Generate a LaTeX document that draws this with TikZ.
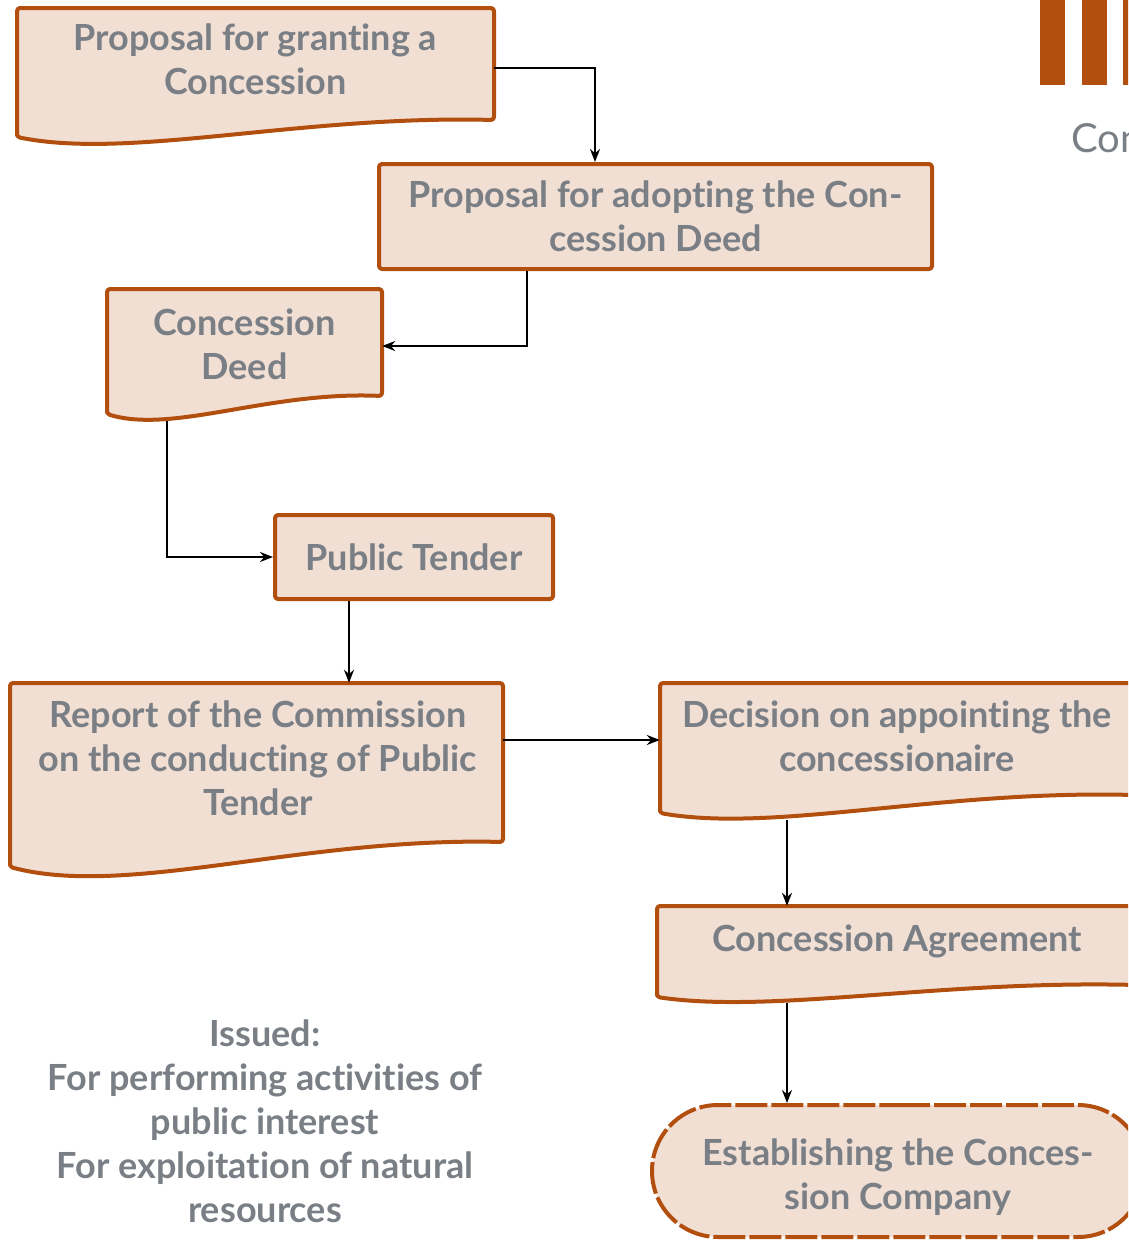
\documentclass[tikz,border=0pt]{standalone}
\usepackage{fontspec}
\setmainfont{Lato}[Ligatures=NoCommon]
\usetikzlibrary{arrows.meta,shapes.misc}
\definecolor{rust}{HTML}{B24F0E}
\definecolor{pale}{HTML}{F2DFD4}
\definecolor{ink}{HTML}{7A7F86}
\begin{document}
\begin{tikzpicture}[x=1pt,y=-1pt,
  docshape/.style={draw=rust, fill=pale, line width=4pt, rounded corners=3pt, line join=round},
  box/.style={docshape, rectangle, inner sep=0pt, text=ink, align=center,
    font=\fontsize{36}{44}\selectfont\bfseries},
  terminal/.style={draw=rust, fill=pale, line width=4pt, rounded rectangle, inner sep=0pt,
    dash pattern=on 32pt off 4pt},
  frame/.style={rectangle, draw=none, inner sep=0pt},
  label/.style={text=ink, align=center, inner sep=0pt,
    font=\fontsize{36}{44}\selectfont\bfseries},
  conn/.style={draw=black, line width=2pt, -{Stealth[length=13pt,width=10pt]}},
  bar/.style={fill=rust, draw=none}]
\clip (0,0) rectangle (1128,1240);

% corner decoration
\fill[bar] (1040,0) rectangle (1065,85);
\fill[bar] (1082,0) rectangle (1107,85);
\fill[bar] (1123,0) rectangle (1148,85);
\node[anchor=west, inner sep=0pt, text=ink, font=\fontsize{40}{48}\selectfont] (corner) at (1071,138) {Con};

% document shapes
\path[docshape] (17,137) -- (17,8) -- (494,8) -- (494,120)
  .. controls (300,115) and (130,160) .. cycle;
\path[docshape] (107,414) -- (107,289) -- (382,289) -- (382,396)
  .. controls (269,391) and (173,434) .. cycle;
\path[docshape] (10,867) -- (10,683) -- (503,683) -- (503,842)
  .. controls (301,837) and (128,898) .. cycle;
\path[docshape] (660,813) -- (660,683) -- (1134,683) -- (1134,795)
  .. controls (940,790) and (774,833) .. cycle;
\path[docshape] (657,997) -- (657,906) -- (1137,906) -- (1137,985)
  .. controls (940,980) and (772,1014) .. cycle;

% extents of the document shapes
\node[frame, minimum width=477pt, minimum height=137pt] (b1) at (255.5,76.5) {};
\node[frame, minimum width=275pt, minimum height=132pt] (b3) at (244.5,355) {};
\node[frame, minimum width=493pt, minimum height=195pt] (b5) at (256.5,780.5) {};
\node[frame, minimum width=474pt, minimum height=137pt] (b6) at (897,751.5) {};
\node[frame, minimum width=480pt, minimum height=97pt] (b7) at (897,954.5) {};

% texts of the document shapes
\node[label] (t1) at (255.5,59) {Proposal for granting a\\Concession};
\node[label] (t3) at (244.5,344) {Concession\\Deed};
\node[label] (t5) at (258,758) {Report of the Commission\\on the conducting of Public\\Tender};
\node[label] (t6) at (897,736) {Decision on appointing the\\concessionaire};
\node[label] (t7) at (897,941) {Concession Agreement};

% process boxes
\node[box, minimum width=553pt, minimum height=105pt] (b2) at (655.5,216.5)
  {Proposal for adopting the Con-\\cession Deed};
\node[box, minimum width=278pt, minimum height=84pt] (b4) at (414,557) {Public Tender};

% terminal
\node[terminal, minimum width=492pt, minimum height=132pt] (b8) at (898,1171) {};
\node[label] (t8) at (898,1177) {Establishing the Conces-\\sion Company};

% note
\node[label] (note) at (265,1121.5)
  {Issued:\\For performing activities of\\public interest\\For exploitation of natural\\resources};

% connectors
\draw[conn] ([yshift=8.5pt]b1.east) -| ([xshift=-60.5pt]b2.north);
\draw[conn] ([xshift=-128.5pt]b2.south) |- ([yshift=9pt]b3.east);
\draw[conn] ([xshift=-77.5pt]b3.south) |- (b4.west);
\draw[conn] ([xshift=-65pt]b4.south) -- ([xshift=-65pt]b4.south |- b5.north);
\draw[conn] ([yshift=40.5pt]b5.east) -- ([yshift=40.5pt]b5.east -| b6.west);
\draw[conn] ([xshift=-110pt]b6.south) -- ([xshift=-110pt]b6.south |- b7.north);
\draw[conn] ([xshift=-110pt]b7.south) -- ([xshift=-110pt]b7.south |- b8.north);
\end{tikzpicture}
\end{document}
